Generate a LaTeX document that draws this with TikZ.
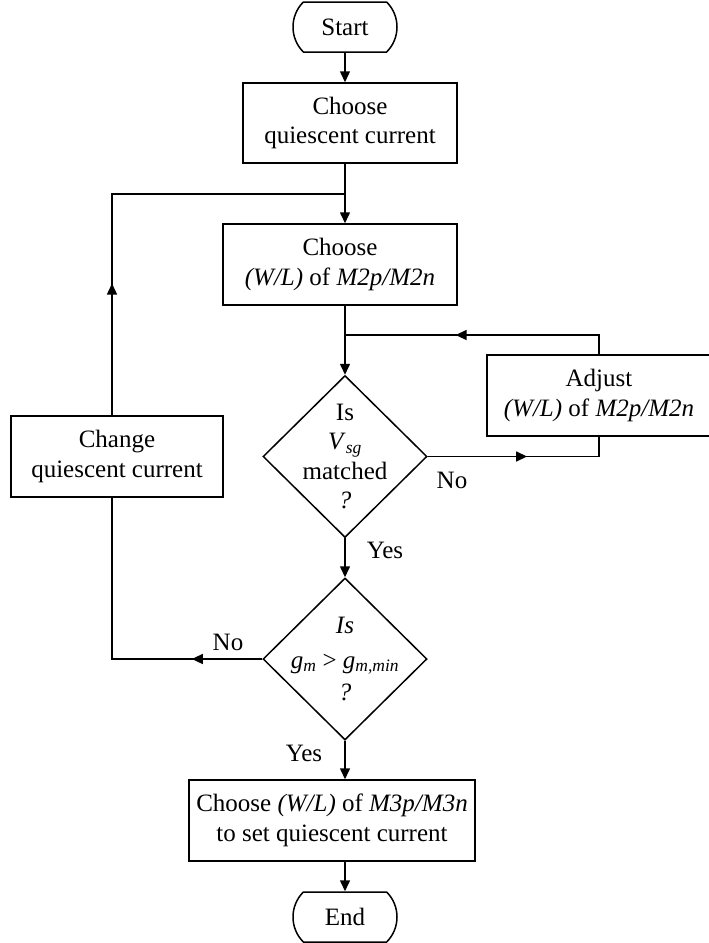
\documentclass[tikz,border=0pt]{standalone}
\usepackage{fontspec}
\setmainfont{Liberation Serif}
\usetikzlibrary{shapes.geometric,shapes.misc,arrows.meta,decorations.markings}
\begin{document}
\begin{tikzpicture}[x=1pt,y=-1pt,
  line width=1.5pt,
  every node/.style={font=\fontsize{25}{29.5}\selectfont},
  box/.style={draw, rectangle, inner sep=0pt, align=center},
  term/.style={draw, rounded rectangle, rounded rectangle arc length=90, minimum width=104pt, minimum height=50pt, inner sep=0pt},
  dia/.style={draw, diamond, minimum width=164pt, minimum height=162pt, inner sep=0pt},
  tip/.style={-{Triangle[length=11pt,width=10pt]}},
  arrowat/.style={postaction={decorate}, decoration={markings, mark=at position #1 with {\arrow{Triangle[length=11pt,width=10pt]}}}},
  lbl/.style={inner sep=0pt}
]
\clip (0,0) rectangle (709,943);

\coordinate (ax) at (345,0);
\coordinate (lx) at (112,0);
\coordinate (j1) at (345,194);
\coordinate (j2) at (345,335);

\node[term] (start) at (345,27) {Start};
\node[box, minimum width=214pt, minimum height=80pt] (b1) at (350,123) {Choose\\quiescent current};
\node[box, minimum width=234pt, minimum height=81pt] (b2) at (340,264.5) {Choose\\\textit{(W/L)} of \textit{M2p/M2n}};
\node[dia] (d1) at (345,456.5) {};
\node[lbl, align=center] (t1) at (d1.center) {Is\\\textit{V}\textsubscript{\textit{sg}}\\matched\\\textit{?}};
\node[dia] (d2) at (345,659) {};
\node[lbl, align=center] (t2) at (d2.center) {\textit{Is}\\[5pt]\textit{g}\textsubscript{\textit{m}} > \textit{g}\textsubscript{\textit{m,min}}\\[3pt]\textit{?}};
\node[box, minimum width=212pt, minimum height=81pt] (ch) at (117,456.5) {Change\\quiescent current};
\node[box, minimum width=224pt, minimum height=81pt] (adj) at (599,395.5) {Adjust\\\textit{(W/L)} of \textit{M2p/M2n}};
\node[box, minimum width=286pt, minimum height=81pt] (b3) at (332,820.5) {Choose \textit{(W/L)} of \textit{M3p/M3n}\\to set quiescent current};
\node[term] (end) at (345,917) {End};

\node[lbl] (no1) at (452,480) {No};
\node[lbl] (yes1) at (385,550) {Yes};
\node[lbl] (no2) at (228,642) {No};
\node[lbl] (yes2) at (304,753) {Yes};

\draw[tip] (start.south) -- (start.south |- b1.north);
\draw[tip] (b1.south -| ax) -- (b2.north -| ax);
\draw[arrowat=0.29] (ch.north -| lx) -- (lx |- j1) -- (j1);
\draw[tip] (b2.south -| ax) -- (d1.north);
\draw[arrowat=0.595] (adj.north) -- (adj.north |- j2) -- (j2);
\draw[arrowat=0.52] (d1.east) -- (d1.east -| adj.south) -- (adj.south);
\draw[tip] (d1.south) -- (d2.north);
\draw[arrowat=0.226] (d2.west) -- (d2.west -| lx) -- (ch.south -| lx);
\draw[tip] (d2.south) -- (b3.north -| ax);
\draw[tip] (b3.south -| ax) -- (end.north);
\end{tikzpicture}
\end{document}
